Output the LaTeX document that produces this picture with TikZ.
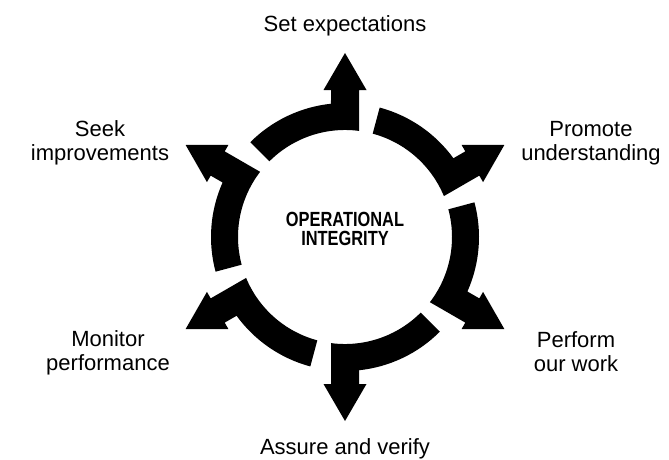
\documentclass[tikz,border=0pt]{standalone}
\usepackage{fontspec}
\setmainfont{Liberation Sans}
\newfontfamily\condfont[FakeStretch=0.8]{Liberation Sans}
\begin{document}
\begin{tikzpicture}[x=1pt, y=1pt,
% common options for the outer labels:
label/.style = {align=center, inner sep=0,
            font=\fontsize{22}{24}\selectfont},
% common options for the centre text:
core/.style = {align=center, inner sep=0,
            font=\condfont\bfseries\fontsize{20.5}{19}\selectfont},
% one ring piece with its arrow, pointing up:
segment/.pic = {
  \fill (135:107pt) -- (135:134pt) arc[start angle=135, end angle=96, radius=134pt]
    -- (-14pt,147pt) -- (-21.5pt,147pt) -- (0pt,184pt) -- (21.5pt,147pt)
    -- (14pt,147pt) -- (14pt,106.1pt)
    arc[start angle=82.5, end angle=135, radius=107pt] -- cycle;
}]
\useasboundingbox (0,0) rectangle (669,459);
\coordinate (C) at (345,222);
\pic[rotate=0]    at (C) {segment};
\pic[rotate=-60]  at (C) {segment};
\pic[rotate=-120] at (C) {segment};
\pic[rotate=-180] at (C) {segment};
\pic[rotate=-240] at (C) {segment};
\pic[rotate=-300] at (C) {segment};
\node[core]  (T0) at (345,230) {OPERATIONAL\\INTEGRITY};
\node[label] (L1) at (345,433) {Set expectations};
\node[label] (L2) at (591,316) {Promote\\understanding};
\node[label] (L3) at (576,107) {Perform\\our work};
\node[label] (L4) at (345,10)  {Assure and verify};
\node[label] (L5) at (108,106) {Monitor\\performance};
\node[label] (L6) at (100,316) {Seek\\improvements};
\end{tikzpicture}
\end{document}
